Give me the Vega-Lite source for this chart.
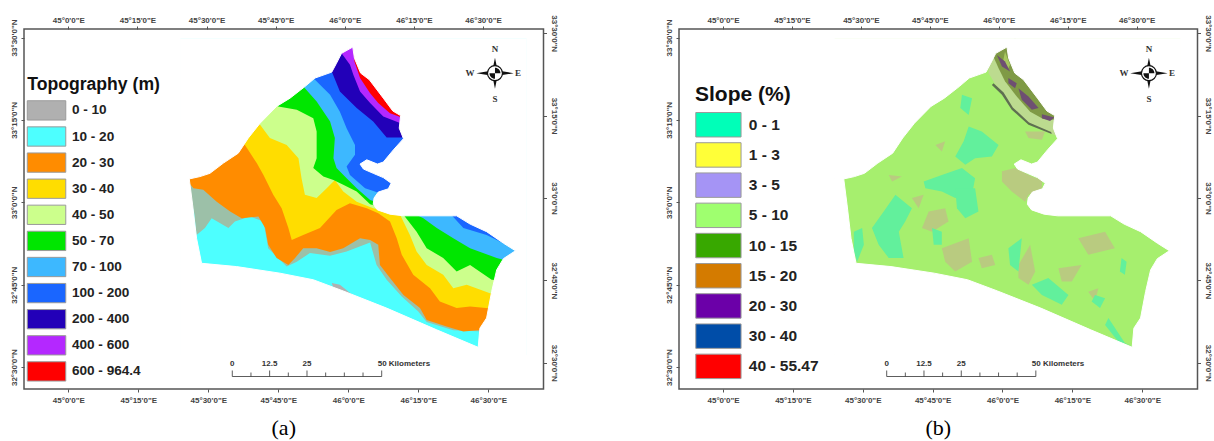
{"$schema":"https://vega.github.io/schema/vega-lite/v6.json","background":"white","padding":{"left":9,"top":13,"right":0,"bottom":0},"spacing":105,
"resolve":{"scale":{"fill":"independent"},"legend":{"fill":"independent"}},
"config":{"view":{"stroke":"#555","strokeWidth":1.5},"axis":{"grid":false,"title":null,"domain":false,"tickSize":3,"tickColor":"#555","tickWidth":1,"labelFont":"Liberation Sans","labelFontWeight":"bold","labelFontSize":8,"labelColor":"#444","labelOverlap":false,"labelBound":false,"labelFlush":false}},
"datasets":{
"ticks":[{"lon":45,"lat":33.5},{"lon":45.25,"lat":33.25},{"lon":45.5,"lat":33},{"lon":45.75,"lat":32.75},{"lon":46,"lat":32.5},{"lon":46.25,"lat":33},{"lon":46.5,"lat":33}],
"mask":[{"lon":45.399,"lat":33.498},{"lon":46.637,"lat":33.498},{"lon":46.637,"lat":32.537},{"lon":45.399,"lat":32.537},{"lon":45.399,"lat":33.071},{"lon":45.432,"lat":33.071},{"lon":45.444,"lat":32.992},{"lon":45.458,"lat":32.891},{"lon":45.476,"lat":32.815},{"lon":45.601,"lat":32.805},{"lon":45.756,"lat":32.785},{"lon":45.875,"lat":32.765},{"lon":45.982,"lat":32.731},{"lon":46.137,"lat":32.679},{"lon":46.316,"lat":32.613},{"lon":46.464,"lat":32.56},{"lon":46.47,"lat":32.618},{"lon":46.494,"lat":32.649},{"lon":46.512,"lat":32.729},{"lon":46.53,"lat":32.795},{"lon":46.554,"lat":32.829},{"lon":46.597,"lat":32.853},{"lon":46.554,"lat":32.876},{"lon":46.494,"lat":32.911},{"lon":46.435,"lat":32.934},{"lon":46.387,"lat":32.959},{"lon":46.197,"lat":32.959},{"lon":46.149,"lat":32.964},{"lon":46.104,"lat":32.977},{"lon":46.089,"lat":32.994},{"lon":46.092,"lat":33.013},{"lon":46.107,"lat":33.031},{"lon":46.143,"lat":33.041},{"lon":46.153,"lat":33.058},{"lon":46.125,"lat":33.075},{"lon":46.089,"lat":33.088},{"lon":46.054,"lat":33.101},{"lon":46.042,"lat":33.116},{"lon":46.066,"lat":33.129},{"lon":46.104,"lat":33.116},{"lon":46.125,"lat":33.122},{"lon":46.161,"lat":33.159},{"lon":46.197,"lat":33.193},{"lon":46.182,"lat":33.225},{"lon":46.187,"lat":33.263},{"lon":46.159,"lat":33.277},{"lon":46.125,"lat":33.316},{"lon":46.075,"lat":33.372},{"lon":46.044,"lat":33.392},{"lon":46.022,"lat":33.437},{"lon":46.016,"lat":33.471},{"lon":45.976,"lat":33.452},{"lon":45.958,"lat":33.422},{"lon":45.941,"lat":33.395},{"lon":45.881,"lat":33.377},{"lon":45.845,"lat":33.351},{"lon":45.792,"lat":33.316},{"lon":45.744,"lat":33.291},{"lon":45.685,"lat":33.24},{"lon":45.643,"lat":33.195},{"lon":45.607,"lat":33.149},{"lon":45.554,"lat":33.119},{"lon":45.506,"lat":33.088},{"lon":45.47,"lat":33.078},{"lon":45.432,"lat":33.071},{"lon":45.399,"lat":33.071},{"lon":45.399,"lat":33.498}],
"barLine":[{"lon":45.5857,"lon2":46.1193,"lat":32.4715}],
"barTicks":[{"lon":45.5857,"lat":32.4715,"lat2":32.4897},{"lon":45.6524,"lat":32.4715,"lat2":32.4836},{"lon":45.7191,"lat":32.4715,"lat2":32.4897},{"lon":45.7858,"lat":32.4715,"lat2":32.4836},{"lon":45.8525,"lat":32.4715,"lat2":32.4897},{"lon":45.9192,"lat":32.4715,"lat2":32.4836},{"lon":45.9859,"lat":32.4715,"lat2":32.4836},{"lon":46.0526,"lat":32.4715,"lat2":32.4836},{"lon":46.1193,"lat":32.4715,"lat2":32.4897}],
"barLabels":[{"lon":45.5857,"lat":32.5109,"t":"0"},{"lon":45.7191,"lat":32.5109,"t":"12.5"},{"lon":45.8525,"lat":32.5109,"t":"25"}],
"barUnit":[{"lon":46.105,"lat":32.5109,"t":"50 Kilometers"}],
"compass":[{"lon":46.5239,"lat":33.3917}],
"compassLetters":[{"lon":46.5239,"lat":33.4666,"t":"N"},{"lon":46.5239,"lat":33.3149,"t":"S"},{"lon":46.4346,"lat":33.3917,"t":"W"},{"lon":46.6061,"lat":33.3917,"t":"E"}],
"topo":[
{"p":"c","b":"10 - 20","lon":45.399,"lat":33.498},{"p":"c","b":"10 - 20","lon":46.637,"lat":33.498},{"p":"c","b":"10 - 20","lon":46.637,"lat":32.537},{"p":"c","b":"10 - 20","lon":45.399,"lat":32.537},
{"p":"g","b":"0 - 10","lon":45.941,"lat":32.755},{"p":"g","b":"0 - 10","lon":45.97,"lat":32.75},{"p":"g","b":"0 - 10","lon":46.03,"lat":32.709},{"p":"g","b":"0 - 10","lon":45.994,"lat":32.724},{"p":"g","b":"0 - 10","lon":45.947,"lat":32.739},
{"p":"m","b":"speckle","lon":45.423,"lat":33.043},{"p":"m","b":"speckle","lon":45.449,"lat":32.972},{"p":"m","b":"speckle","lon":45.458,"lat":32.901},{"p":"m","b":"speckle","lon":45.488,"lat":32.922},{"p":"m","b":"speckle","lon":45.512,"lat":32.952},{"p":"m","b":"speckle","lon":45.572,"lat":32.922},{"p":"m","b":"speckle","lon":45.595,"lat":32.942},{"p":"m","b":"speckle","lon":45.649,"lat":32.957},{"p":"m","b":"speckle","lon":45.697,"lat":32.942},{"p":"m","b":"speckle","lon":45.714,"lat":32.861},{"p":"m","b":"speckle","lon":45.78,"lat":32.805},{"p":"m","b":"speckle","lon":45.816,"lat":32.82},{"p":"m","b":"speckle","lon":45.863,"lat":32.846},{"p":"m","b":"speckle","lon":45.935,"lat":32.838},{"p":"m","b":"speckle","lon":45.994,"lat":32.851},{"p":"m","b":"speckle","lon":46.078,"lat":32.878},{"p":"m","b":"speckle","lon":46.101,"lat":32.81},{"p":"m","b":"speckle","lon":46.137,"lat":32.765},{"p":"m","b":"speckle","lon":46.191,"lat":32.714},{"p":"m","b":"speckle","lon":46.25,"lat":32.669},{"p":"m","b":"speckle","lon":46.28,"lat":32.637},{"p":"m","b":"speckle","lon":46.375,"lat":32.612},{"p":"m","b":"speckle","lon":46.482,"lat":32.608},{"p":"m","b":"speckle","lon":46.625,"lat":32.608},{"p":"m","b":"speckle","lon":46.625,"lat":33.488},{"p":"m","b":"speckle","lon":45.411,"lat":33.488},
{"p":"o","b":"20 - 30","lon":45.423,"lat":33.068},{"p":"o","b":"20 - 30","lon":45.447,"lat":33.043},{"p":"o","b":"20 - 30","lon":45.482,"lat":33.038},{"p":"o","b":"20 - 30","lon":45.53,"lat":33.002},{"p":"o","b":"20 - 30","lon":45.578,"lat":32.972},{"p":"o","b":"20 - 30","lon":45.619,"lat":32.952},{"p":"o","b":"20 - 30","lon":45.679,"lat":32.957},{"p":"o","b":"20 - 30","lon":45.703,"lat":32.922},{"p":"o","b":"20 - 30","lon":45.714,"lat":32.871},{"p":"o","b":"20 - 30","lon":45.744,"lat":32.831},{"p":"o","b":"20 - 30","lon":45.786,"lat":32.81},{"p":"o","b":"20 - 30","lon":45.81,"lat":32.831},{"p":"o","b":"20 - 30","lon":45.839,"lat":32.861},{"p":"o","b":"20 - 30","lon":45.887,"lat":32.861},{"p":"o","b":"20 - 30","lon":45.935,"lat":32.849},{"p":"o","b":"20 - 30","lon":45.982,"lat":32.861},{"p":"o","b":"20 - 30","lon":46.042,"lat":32.891},{"p":"o","b":"20 - 30","lon":46.078,"lat":32.886},{"p":"o","b":"20 - 30","lon":46.107,"lat":32.871},{"p":"o","b":"20 - 30","lon":46.113,"lat":32.81},{"p":"o","b":"20 - 30","lon":46.149,"lat":32.77},{"p":"o","b":"20 - 30","lon":46.197,"lat":32.719},{"p":"o","b":"20 - 30","lon":46.256,"lat":32.679},{"p":"o","b":"20 - 30","lon":46.28,"lat":32.643},{"p":"o","b":"20 - 30","lon":46.351,"lat":32.623},{"p":"o","b":"20 - 30","lon":46.411,"lat":32.608},{"p":"o","b":"20 - 30","lon":46.482,"lat":32.613},{"p":"o","b":"20 - 30","lon":46.625,"lat":32.628},{"p":"o","b":"20 - 30","lon":46.625,"lat":33.488},{"p":"o","b":"20 - 30","lon":45.411,"lat":33.488},
{"p":"y","b":"30 - 40","lon":45.601,"lat":33.195},{"p":"y","b":"30 - 40","lon":45.631,"lat":33.174},{"p":"y","b":"30 - 40","lon":45.673,"lat":33.119},{"p":"y","b":"30 - 40","lon":45.697,"lat":33.083},{"p":"y","b":"30 - 40","lon":45.732,"lat":33.023},{"p":"y","b":"30 - 40","lon":45.762,"lat":32.982},{"p":"y","b":"30 - 40","lon":45.786,"lat":32.922},{"p":"y","b":"30 - 40","lon":45.798,"lat":32.886},{"p":"y","b":"30 - 40","lon":45.839,"lat":32.901},{"p":"y","b":"30 - 40","lon":45.899,"lat":32.922},{"p":"y","b":"30 - 40","lon":45.958,"lat":32.977},{"p":"y","b":"30 - 40","lon":46.006,"lat":32.997},{"p":"y","b":"30 - 40","lon":46.066,"lat":32.982},{"p":"y","b":"30 - 40","lon":46.107,"lat":32.967},{"p":"y","b":"30 - 40","lon":46.149,"lat":32.942},{"p":"y","b":"30 - 40","lon":46.173,"lat":32.891},{"p":"y","b":"30 - 40","lon":46.191,"lat":32.841},{"p":"y","b":"30 - 40","lon":46.232,"lat":32.78},{"p":"y","b":"30 - 40","lon":46.292,"lat":32.739},{"p":"y","b":"30 - 40","lon":46.327,"lat":32.699},{"p":"y","b":"30 - 40","lon":46.387,"lat":32.679},{"p":"y","b":"30 - 40","lon":46.435,"lat":32.684},{"p":"y","b":"30 - 40","lon":46.625,"lat":32.669},{"p":"y","b":"30 - 40","lon":46.625,"lat":33.488},{"p":"y","b":"30 - 40","lon":45.601,"lat":33.488},
{"p":"l","b":"40 - 50","lon":45.661,"lat":33.255},{"p":"l","b":"40 - 50","lon":45.685,"lat":33.235},{"p":"l","b":"40 - 50","lon":45.72,"lat":33.195},{"p":"l","b":"40 - 50","lon":45.78,"lat":33.174},{"p":"l","b":"40 - 50","lon":45.822,"lat":33.134},{"p":"l","b":"40 - 50","lon":45.833,"lat":33.073},{"p":"l","b":"40 - 50","lon":45.845,"lat":33.023},{"p":"l","b":"40 - 50","lon":45.887,"lat":33.013},{"p":"l","b":"40 - 50","lon":45.923,"lat":33.043},{"p":"l","b":"40 - 50","lon":45.952,"lat":33.068},{"p":"l","b":"40 - 50","lon":45.982,"lat":33.033},{"p":"l","b":"40 - 50","lon":46.03,"lat":33.002},{"p":"l","b":"40 - 50","lon":46.089,"lat":32.982},{"p":"l","b":"40 - 50","lon":46.185,"lat":32.962},{"p":"l","b":"40 - 50","lon":46.22,"lat":32.901},{"p":"l","b":"40 - 50","lon":46.244,"lat":32.851},{"p":"l","b":"40 - 50","lon":46.28,"lat":32.81},{"p":"l","b":"40 - 50","lon":46.339,"lat":32.78},{"p":"l","b":"40 - 50","lon":46.375,"lat":32.739},{"p":"l","b":"40 - 50","lon":46.423,"lat":32.75},{"p":"l","b":"40 - 50","lon":46.506,"lat":32.724},{"p":"l","b":"40 - 50","lon":46.625,"lat":32.719},{"p":"l","b":"40 - 50","lon":46.625,"lat":33.488},{"p":"l","b":"40 - 50","lon":45.661,"lat":33.488},
{"p":"e","b":"50 - 70","lon":45.732,"lat":33.301},{"p":"e","b":"50 - 70","lon":45.75,"lat":33.291},{"p":"e","b":"50 - 70","lon":45.816,"lat":33.281},{"p":"e","b":"50 - 70","lon":45.875,"lat":33.255},{"p":"e","b":"50 - 70","lon":45.887,"lat":33.215},{"p":"e","b":"50 - 70","lon":45.887,"lat":33.134},{"p":"e","b":"50 - 70","lon":45.875,"lat":33.104},{"p":"e","b":"50 - 70","lon":45.911,"lat":33.078},{"p":"e","b":"50 - 70","lon":45.947,"lat":33.068},{"p":"e","b":"50 - 70","lon":45.982,"lat":33.053},{"p":"e","b":"50 - 70","lon":46.03,"lat":33.033},{"p":"e","b":"50 - 70","lon":46.078,"lat":32.994},{"p":"e","b":"50 - 70","lon":46.125,"lat":32.982},{"p":"e","b":"50 - 70","lon":46.197,"lat":32.962},{"p":"e","b":"50 - 70","lon":46.244,"lat":32.911},{"p":"e","b":"50 - 70","lon":46.28,"lat":32.861},{"p":"e","b":"50 - 70","lon":46.339,"lat":32.831},{"p":"e","b":"50 - 70","lon":46.387,"lat":32.79},{"p":"e","b":"50 - 70","lon":46.435,"lat":32.81},{"p":"e","b":"50 - 70","lon":46.512,"lat":32.765},{"p":"e","b":"50 - 70","lon":46.625,"lat":32.76},{"p":"e","b":"50 - 70","lon":46.625,"lat":33.488},{"p":"e","b":"50 - 70","lon":45.732,"lat":33.488},
{"p":"a","b":"70 - 100","lon":45.833,"lat":33.361},{"p":"a","b":"70 - 100","lon":45.845,"lat":33.346},{"p":"a","b":"70 - 100","lon":45.887,"lat":33.306},{"p":"a","b":"70 - 100","lon":45.935,"lat":33.245},{"p":"a","b":"70 - 100","lon":45.952,"lat":33.195},{"p":"a","b":"70 - 100","lon":45.947,"lat":33.134},{"p":"a","b":"70 - 100","lon":45.958,"lat":33.104},{"p":"a","b":"70 - 100","lon":45.994,"lat":33.073},{"p":"a","b":"70 - 100","lon":46.03,"lat":33.043},{"p":"a","b":"70 - 100","lon":46.078,"lat":33.007},{"p":"a","b":"70 - 100","lon":46.232,"lat":32.967},{"p":"a","b":"70 - 100","lon":46.268,"lat":32.952},{"p":"a","b":"70 - 100","lon":46.316,"lat":32.922},{"p":"a","b":"70 - 100","lon":46.375,"lat":32.891},{"p":"a","b":"70 - 100","lon":46.435,"lat":32.861},{"p":"a","b":"70 - 100","lon":46.53,"lat":32.831},{"p":"a","b":"70 - 100","lon":46.625,"lat":32.81},{"p":"a","b":"70 - 100","lon":46.625,"lat":33.488},{"p":"a","b":"70 - 100","lon":45.833,"lat":33.488},
{"p":"u","b":"100 - 200","lon":45.869,"lat":33.382},{"p":"u","b":"100 - 200","lon":45.881,"lat":33.372},{"p":"u","b":"100 - 200","lon":45.935,"lat":33.326},{"p":"u","b":"100 - 200","lon":45.97,"lat":33.275},{"p":"u","b":"100 - 200","lon":45.994,"lat":33.225},{"p":"u","b":"100 - 200","lon":46.024,"lat":33.174},{"p":"u","b":"100 - 200","lon":46.024,"lat":33.144},{"p":"u","b":"100 - 200","lon":45.994,"lat":33.109},{"p":"u","b":"100 - 200","lon":46.006,"lat":33.083},{"p":"u","b":"100 - 200","lon":46.06,"lat":33.043},{"p":"u","b":"100 - 200","lon":46.095,"lat":33.033},{"p":"u","b":"100 - 200","lon":46.149,"lat":33.013},{"p":"u","b":"100 - 200","lon":46.357,"lat":32.972},{"p":"u","b":"100 - 200","lon":46.411,"lat":32.922},{"p":"u","b":"100 - 200","lon":46.494,"lat":32.901},{"p":"u","b":"100 - 200","lon":46.625,"lat":32.846},{"p":"u","b":"100 - 200","lon":46.625,"lat":33.488},{"p":"u","b":"100 - 200","lon":45.869,"lat":33.488},
{"p":"d","b":"200 - 400","lon":45.935,"lat":33.407},{"p":"d","b":"200 - 400","lon":45.941,"lat":33.397},{"p":"d","b":"200 - 400","lon":45.97,"lat":33.336},{"p":"d","b":"200 - 400","lon":46.03,"lat":33.286},{"p":"d","b":"200 - 400","lon":46.089,"lat":33.245},{"p":"d","b":"200 - 400","lon":46.137,"lat":33.197},{"p":"d","b":"200 - 400","lon":46.191,"lat":33.197},{"p":"d","b":"200 - 400","lon":46.625,"lat":33.197},{"p":"d","b":"200 - 400","lon":46.625,"lat":33.488},{"p":"d","b":"200 - 400","lon":45.935,"lat":33.488},
{"p":"v","b":"400 - 600","lon":45.964,"lat":33.463},{"p":"v","b":"400 - 600","lon":45.976,"lat":33.452},{"p":"v","b":"400 - 600","lon":46.006,"lat":33.417},{"p":"v","b":"400 - 600","lon":46.018,"lat":33.387},{"p":"v","b":"400 - 600","lon":46.042,"lat":33.336},{"p":"v","b":"400 - 600","lon":46.078,"lat":33.301},{"p":"v","b":"400 - 600","lon":46.125,"lat":33.26},{"p":"v","b":"400 - 600","lon":46.187,"lat":33.24},{"p":"v","b":"400 - 600","lon":46.625,"lat":33.24},{"p":"v","b":"400 - 600","lon":46.625,"lat":33.488},{"p":"v","b":"400 - 600","lon":45.964,"lat":33.488},
{"p":"r","b":"600 - 964.4","lon":46.012,"lat":33.488},{"p":"r","b":"600 - 964.4","lon":46.018,"lat":33.468},{"p":"r","b":"600 - 964.4","lon":46.022,"lat":33.427},{"p":"r","b":"600 - 964.4","lon":46.042,"lat":33.377},{"p":"r","b":"600 - 964.4","lon":46.078,"lat":33.331},{"p":"r","b":"600 - 964.4","lon":46.107,"lat":33.301},{"p":"r","b":"600 - 964.4","lon":46.149,"lat":33.27},{"p":"r","b":"600 - 964.4","lon":46.191,"lat":33.257},{"p":"r","b":"600 - 964.4","lon":46.625,"lat":33.257},{"p":"r","b":"600 - 964.4","lon":46.625,"lat":33.488}
],
"slope":[
{"p":"base","b":"5 - 10 texture","lon":45.399,"lat":33.498},{"p":"base","b":"5 - 10 texture","lon":46.637,"lat":33.498},{"p":"base","b":"5 - 10 texture","lon":46.637,"lat":32.537},{"p":"base","b":"5 - 10 texture","lon":45.399,"lat":32.537},
{"p":"t1","b":"3 - 5 texture","lon":45.998,"lat":33.094},{"p":"t1","b":"3 - 5 texture","lon":46.045,"lat":33.104},{"p":"t1","b":"3 - 5 texture","lon":46.105,"lat":33.078},{"p":"t1","b":"3 - 5 texture","lon":46.141,"lat":33.068},{"p":"t1","b":"3 - 5 texture","lon":46.141,"lat":33.043},{"p":"t1","b":"3 - 5 texture","lon":46.093,"lat":33.023},{"p":"t1","b":"3 - 5 texture","lon":46.081,"lat":33.002},{"p":"t1","b":"3 - 5 texture","lon":46.033,"lat":33.033},{"p":"t1","b":"3 - 5 texture","lon":45.998,"lat":33.063},
{"p":"t2","b":"3 - 5 texture","lon":45.736,"lat":32.972},{"p":"t2","b":"3 - 5 texture","lon":45.795,"lat":32.982},{"p":"t2","b":"3 - 5 texture","lon":45.807,"lat":32.942},{"p":"t2","b":"3 - 5 texture","lon":45.748,"lat":32.911},{"p":"t2","b":"3 - 5 texture","lon":45.712,"lat":32.922},
{"p":"t3","b":"3 - 5 texture","lon":45.783,"lat":32.861},{"p":"t3","b":"3 - 5 texture","lon":45.879,"lat":32.891},{"p":"t3","b":"3 - 5 texture","lon":45.891,"lat":32.82},{"p":"t3","b":"3 - 5 texture","lon":45.831,"lat":32.79},{"p":"t3","b":"3 - 5 texture","lon":45.795,"lat":32.82},
{"p":"t4","b":"3 - 5 texture","lon":46.057,"lat":32.81},{"p":"t4","b":"3 - 5 texture","lon":46.099,"lat":32.871},{"p":"t4","b":"3 - 5 texture","lon":46.117,"lat":32.79},{"p":"t4","b":"3 - 5 texture","lon":46.093,"lat":32.75},{"p":"t4","b":"3 - 5 texture","lon":46.057,"lat":32.77},
{"p":"t5","b":"3 - 5 texture","lon":46.2,"lat":32.8},{"p":"t5","b":"3 - 5 texture","lon":46.283,"lat":32.81},{"p":"t5","b":"3 - 5 texture","lon":46.248,"lat":32.76},{"p":"t5","b":"3 - 5 texture","lon":46.212,"lat":32.76},
{"p":"t6","b":"3 - 5 texture","lon":45.593,"lat":33.083},{"p":"t6","b":"3 - 5 texture","lon":45.64,"lat":33.078},{"p":"t6","b":"3 - 5 texture","lon":45.605,"lat":33.063},
{"p":"t7","b":"3 - 5 texture","lon":45.76,"lat":33.174},{"p":"t7","b":"3 - 5 texture","lon":45.795,"lat":33.185},{"p":"t7","b":"3 - 5 texture","lon":45.783,"lat":33.154},
{"p":"t8","b":"3 - 5 texture","lon":45.914,"lat":32.831},{"p":"t8","b":"3 - 5 texture","lon":45.962,"lat":32.841},{"p":"t8","b":"3 - 5 texture","lon":45.974,"lat":32.81},{"p":"t8","b":"3 - 5 texture","lon":45.926,"lat":32.8},
{"p":"t9","b":"3 - 5 texture","lon":46.307,"lat":32.729},{"p":"t9","b":"3 - 5 texture","lon":46.343,"lat":32.739},{"p":"t9","b":"3 - 5 texture","lon":46.331,"lat":32.699},
{"p":"t10","b":"3 - 5 texture","lon":46.081,"lat":33.215},{"p":"t10","b":"3 - 5 texture","lon":46.152,"lat":33.215},{"p":"t10","b":"3 - 5 texture","lon":46.141,"lat":33.19},{"p":"t10","b":"3 - 5 texture","lon":46.093,"lat":33.195},
{"p":"t11","b":"3 - 5 texture","lon":45.676,"lat":33.013},{"p":"t11","b":"3 - 5 texture","lon":45.718,"lat":33.023},{"p":"t11","b":"3 - 5 texture","lon":45.7,"lat":32.982},
{"p":"t12","b":"3 - 5 texture","lon":46.271,"lat":32.891},{"p":"t12","b":"3 - 5 texture","lon":46.367,"lat":32.911},{"p":"t12","b":"3 - 5 texture","lon":46.402,"lat":32.861},{"p":"t12","b":"3 - 5 texture","lon":46.307,"lat":32.841},
{"p":"a1","b":"0 - 1 texture","lon":45.879,"lat":33.23},{"p":"a1","b":"0 - 1 texture","lon":45.926,"lat":33.215},{"p":"a1","b":"0 - 1 texture","lon":45.986,"lat":33.174},{"p":"a1","b":"0 - 1 texture","lon":45.962,"lat":33.139},{"p":"a1","b":"0 - 1 texture","lon":45.902,"lat":33.134},{"p":"a1","b":"0 - 1 texture","lon":45.867,"lat":33.114},{"p":"a1","b":"0 - 1 texture","lon":45.831,"lat":33.139},{"p":"a1","b":"0 - 1 texture","lon":45.861,"lat":33.185},
{"p":"a2","b":"0 - 1 texture","lon":45.718,"lat":33.063},{"p":"a2","b":"0 - 1 texture","lon":45.783,"lat":33.083},{"p":"a2","b":"0 - 1 texture","lon":45.855,"lat":33.104},{"p":"a2","b":"0 - 1 texture","lon":45.902,"lat":33.073},{"p":"a2","b":"0 - 1 texture","lon":45.891,"lat":33.023},{"p":"a2","b":"0 - 1 texture","lon":45.831,"lat":33.013},{"p":"a2","b":"0 - 1 texture","lon":45.783,"lat":33.033},{"p":"a2","b":"0 - 1 texture","lon":45.724,"lat":33.043},
{"p":"a3","b":"0 - 1 texture","lon":45.533,"lat":32.922},{"p":"a3","b":"0 - 1 texture","lon":45.575,"lat":32.972},{"p":"a3","b":"0 - 1 texture","lon":45.617,"lat":33.023},{"p":"a3","b":"0 - 1 texture","lon":45.676,"lat":32.982},{"p":"a3","b":"0 - 1 texture","lon":45.652,"lat":32.942},{"p":"a3","b":"0 - 1 texture","lon":45.629,"lat":32.911},{"p":"a3","b":"0 - 1 texture","lon":45.646,"lat":32.831},{"p":"a3","b":"0 - 1 texture","lon":45.593,"lat":32.831},{"p":"a3","b":"0 - 1 texture","lon":45.557,"lat":32.871},
{"p":"a4","b":"0 - 1 texture","lon":45.468,"lat":32.911},{"p":"a4","b":"0 - 1 texture","lon":45.498,"lat":32.922},{"p":"a4","b":"0 - 1 texture","lon":45.504,"lat":32.871},{"p":"a4","b":"0 - 1 texture","lon":45.48,"lat":32.82},{"p":"a4","b":"0 - 1 texture","lon":45.468,"lat":32.851},
{"p":"a5","b":"0 - 1 texture","lon":45.748,"lat":32.922},{"p":"a5","b":"0 - 1 texture","lon":45.783,"lat":32.911},{"p":"a5","b":"0 - 1 texture","lon":45.783,"lat":32.871},{"p":"a5","b":"0 - 1 texture","lon":45.754,"lat":32.871},
{"p":"a6","b":"0 - 1 texture","lon":45.831,"lat":33.043},{"p":"a6","b":"0 - 1 texture","lon":45.902,"lat":33.043},{"p":"a6","b":"0 - 1 texture","lon":45.914,"lat":32.972},{"p":"a6","b":"0 - 1 texture","lon":45.867,"lat":32.952},{"p":"a6","b":"0 - 1 texture","lon":45.837,"lat":32.982},
{"p":"a7","b":"0 - 1 texture","lon":46.105,"lat":32.75},{"p":"a7","b":"0 - 1 texture","lon":46.164,"lat":32.77},{"p":"a7","b":"0 - 1 texture","lon":46.236,"lat":32.719},{"p":"a7","b":"0 - 1 texture","lon":46.212,"lat":32.689},{"p":"a7","b":"0 - 1 texture","lon":46.141,"lat":32.719},
{"p":"a8","b":"0 - 1 texture","lon":46.331,"lat":32.719},{"p":"a8","b":"0 - 1 texture","lon":46.367,"lat":32.709},{"p":"a8","b":"0 - 1 texture","lon":46.349,"lat":32.679},{"p":"a8","b":"0 - 1 texture","lon":46.319,"lat":32.699},
{"p":"a9","b":"0 - 1 texture","lon":46.426,"lat":32.831},{"p":"a9","b":"0 - 1 texture","lon":46.444,"lat":32.82},{"p":"a9","b":"0 - 1 texture","lon":46.438,"lat":32.78},{"p":"a9","b":"0 - 1 texture","lon":46.42,"lat":32.79},
{"p":"a10","b":"0 - 1 texture","lon":46.379,"lat":32.649},{"p":"a10","b":"0 - 1 texture","lon":46.438,"lat":32.573},{"p":"a10","b":"0 - 1 texture","lon":46.468,"lat":32.563},{"p":"a10","b":"0 - 1 texture","lon":46.414,"lat":32.578},{"p":"a10","b":"0 - 1 texture","lon":46.367,"lat":32.628},
{"p":"a11","b":"0 - 1 texture","lon":46.021,"lat":32.861},{"p":"a11","b":"0 - 1 texture","lon":46.069,"lat":32.891},{"p":"a11","b":"0 - 1 texture","lon":46.057,"lat":32.79},{"p":"a11","b":"0 - 1 texture","lon":46.027,"lat":32.81},
{"p":"a12","b":"0 - 1 texture","lon":45.855,"lat":33.326},{"p":"a12","b":"0 - 1 texture","lon":45.891,"lat":33.316},{"p":"a12","b":"0 - 1 texture","lon":45.879,"lat":33.265},{"p":"a12","b":"0 - 1 texture","lon":45.849,"lat":33.286},
{"p":"pale","b":"10 - 15 pale","lon":45.95,"lat":33.392},{"p":"pale","b":"10 - 15 pale","lon":45.986,"lat":33.341},{"p":"pale","b":"10 - 15 pale","lon":46.033,"lat":33.281},{"p":"pale","b":"10 - 15 pale","lon":46.093,"lat":33.24},{"p":"pale","b":"10 - 15 pale","lon":46.152,"lat":33.215},{"p":"pale","b":"10 - 15 pale","lon":46.2,"lat":33.2},{"p":"pale","b":"10 - 15 pale","lon":46.283,"lat":33.316},{"p":"pale","b":"10 - 15 pale","lon":46.045,"lat":33.498},{"p":"pale","b":"10 - 15 pale","lon":45.95,"lat":33.457},
{"p":"oliv","b":"15 - 20 texture","lon":45.962,"lat":33.452},{"p":"oliv","b":"15 - 20 texture","lon":45.986,"lat":33.407},{"p":"oliv","b":"15 - 20 texture","lon":46.009,"lat":33.367},{"p":"oliv","b":"15 - 20 texture","lon":46.051,"lat":33.321},{"p":"oliv","b":"15 - 20 texture","lon":46.099,"lat":33.275},{"p":"oliv","b":"15 - 20 texture","lon":46.146,"lat":33.253},{"p":"oliv","b":"15 - 20 texture","lon":46.2,"lat":33.25},{"p":"oliv","b":"15 - 20 texture","lon":46.283,"lat":33.316},{"p":"oliv","b":"15 - 20 texture","lon":46.045,"lat":33.498},
{"p":"g1","b":"10 - 15 light","lon":46.009,"lat":33.457},{"p":"g1","b":"10 - 15 light","lon":46.027,"lat":33.417},{"p":"g1","b":"10 - 15 light","lon":46.021,"lat":33.407},{"p":"g1","b":"10 - 15 light","lon":46.003,"lat":33.432},
{"p":"d1","b":"20 - 30 texture","lon":46.057,"lat":33.346},{"p":"d1","b":"20 - 30 texture","lon":46.093,"lat":33.321},{"p":"d1","b":"20 - 30 texture","lon":46.129,"lat":33.286},{"p":"d1","b":"20 - 30 texture","lon":46.105,"lat":33.281},{"p":"d1","b":"20 - 30 texture","lon":46.069,"lat":33.311},
{"p":"d2","b":"20 - 30 texture","lon":46.141,"lat":33.267},{"p":"d2","b":"20 - 30 texture","lon":46.186,"lat":33.257},{"p":"d2","b":"20 - 30 texture","lon":46.17,"lat":33.247},{"p":"d2","b":"20 - 30 texture","lon":46.141,"lat":33.255},
{"p":"d3","b":"20 - 30 texture","lon":45.98,"lat":33.447},{"p":"d3","b":"20 - 30 texture","lon":46.009,"lat":33.427},{"p":"d3","b":"20 - 30 texture","lon":46.027,"lat":33.397},{"p":"d3","b":"20 - 30 texture","lon":45.998,"lat":33.412},
{"p":"d4","b":"20 - 30 texture","lon":46.021,"lat":33.377},{"p":"d4","b":"20 - 30 texture","lon":46.051,"lat":33.361},{"p":"d4","b":"20 - 30 texture","lon":46.045,"lat":33.346},{"p":"d4","b":"20 - 30 texture","lon":46.021,"lat":33.361},
{"p":"rdg","b":"ridge","lon":45.962,"lat":33.356},{"p":"rdg","b":"ridge","lon":45.998,"lat":33.326},{"p":"rdg","b":"ridge","lon":46.033,"lat":33.281},{"p":"rdg","b":"ridge","lon":46.093,"lat":33.235},{"p":"rdg","b":"ridge","lon":46.176,"lat":33.207},{"p":"rdg","b":"ridge","lon":46.174,"lat":33.213},{"p":"rdg","b":"ridge","lon":46.095,"lat":33.242},{"p":"rdg","b":"ridge","lon":46.037,"lat":33.288},{"p":"rdg","b":"ridge","lon":46.004,"lat":33.333},{"p":"rdg","b":"ridge","lon":45.968,"lat":33.361}
]
},
"hconcat":[
{"width":519.5,"height":360,
"title":{"text":"(a)","orient":"bottom","anchor":"middle","font":"Liberation Serif","fontSize":22,"fontWeight":"normal","color":"#000","offset":14},
"layer":[
{"encoding":{
"x":{"field":"lon","type":"quantitative","scale":{"domain":[44.8418,46.6972],"nice":false,"zero":false},"axis":{"orient":"bottom","values":[45,45.25,45.5,45.75,46,46.25,46.5],"labelPadding":4,"labelExpr":"floor(datum.value)+'°'+round((datum.value%1)*60)+'\\'0\"E'"}},
"y":{"field":"lat","type":"quantitative","scale":{"domain":[32.4336,33.5258],"nice":false,"zero":false},"axis":{"orient":"left","values":[32.5,32.75,33,33.25,33.5],"labelAngle":-90,"labelAlign":"center","labelBaseline":"bottom","labelPadding":3,"labelExpr":"floor(datum.value)+'°'+round((datum.value%1)*60)+'\\'0\"N'"}}},
"layer":[
{"data":{"name":"topo"},"mark":{"type":"line","stroke":null},
"encoding":{"order":{"value":null},"detail":{"field":"p"},"fill":{"field":"b","type":"nominal","scale":{"domain":["0 - 10","10 - 20","20 - 30","30 - 40","40 - 50","50 - 70","70 - 100","100 - 200","200 - 400","400 - 600","600 - 964.4","speckle"],"range":["#b0b0b0","#4dffff","#ff8c00","#ffdd00","#ccff8c","#00e600","#3db8ff","#1a66ff","#2200b8","#b428ff","#ff0000","#9cc0a8"]},
"legend":{"title":"Topography (m)","values":["0 - 10","10 - 20","20 - 30","30 - 40","40 - 50","50 - 70","70 - 100","100 - 200","200 - 400","400 - 600","600 - 964.4"],"orient":"none","legendX":3.3,"legendY":47,"padding":0,"symbolType":"M-1.4,-1.98H6.5V1.98H-1.4Z","symbolSize":95,"symbolStrokeColor":"#9a9a9a","symbolStrokeWidth":1,"symbolOpacity":1,"labelFont":"Liberation Sans","labelFontWeight":"bold","labelFontSize":13.6,"labelColor":"#222","labelOffset":31,"rowPadding":2.1,"titleFont":"Liberation Sans","titleFontWeight":"bold","titleFontSize":17.6,"titleColor":"#111","titlePadding":10,"labelLimit":200,"titleLimit":300}}}},
{"data":{"name":"mask"},"mark":{"type":"line","fill":"white","stroke":"white","strokeWidth":1},"encoding":{"order":{"value":null}}},
{"data":{"name":"barLine"},"mark":{"type":"rule","color":"#333","strokeWidth":0.8},"encoding":{"x2":{"field":"lon2"}}},
{"data":{"name":"barTicks"},"mark":{"type":"rule","color":"#333","strokeWidth":0.8},"encoding":{"y2":{"field":"lat2"}}},
{"data":{"name":"barLabels"},"mark":{"type":"text","font":"Liberation Sans","fontWeight":"bold","fontSize":8,"color":"#333","align":"center"},"encoding":{"text":{"field":"t"}}},
{"data":{"name":"barUnit"},"mark":{"type":"text","font":"Liberation Sans","fontWeight":"bold","fontSize":8,"color":"#333","align":"left"},"encoding":{"text":{"field":"t"}}},
{"data":{"name":"compass"},"mark":{"type":"point","shape":"M0,-.83L.14,-.14L1,0L.14,.14L0,.83L-.14,.14L-1,0L-.14,-.14Z","size":1399,"filled":true,"fill":"#111","strokeWidth":0,"opacity":1}},
{"data":{"name":"compass"},"mark":{"type":"point","shape":"circle","size":225,"filled":true,"fill":"white","stroke":"#111","strokeWidth":1.2,"opacity":1}},
{"data":{"name":"compass"},"mark":{"type":"point","shape":"M0,0L0,-1A1,1,0,0,1,1,0ZM0,0L0,1A1,1,0,0,1,-1,0Z","size":121,"filled":true,"fill":"#111","strokeWidth":0,"opacity":1}},
{"data":{"name":"compassLetters"},"mark":{"type":"text","font":"Liberation Serif","fontWeight":"bold","fontSize":9,"color":"#333"},"encoding":{"text":{"field":"t"}}}
]},
{"data":{"name":"ticks"},"mark":{"type":"point","opacity":0},
"encoding":{
"x":{"field":"lon","type":"quantitative","scale":{"domain":[44.8398,46.7186],"nice":false,"zero":false},"axis":{"orient":"top","values":[45,45.25,45.5,45.75,46,46.25,46.5],"labelPadding":2,"labelExpr":"floor(datum.value)+'°'+round((datum.value%1)*60)+'\\'0\"E'"}},
"y":{"field":"lat","type":"quantitative","scale":{"domain":[32.4205,33.5127],"nice":false,"zero":false},"axis":{"orient":"right","values":[32.5,32.75,33,33.25,33.5],"labelAngle":90,"labelAlign":"center","labelBaseline":"bottom","labelPadding":3,"labelExpr":"floor(datum.value)+'°'+round((datum.value%1)*60)+'\\'0\"N'"}}}}
],
"resolve":{"scale":{"x":"independent","y":"independent"},"axis":{"x":"independent","y":"independent"}}
},
{"width":518.5,"height":360,
"title":{"text":"(b)","orient":"bottom","anchor":"middle","font":"Liberation Serif","fontSize":22,"fontWeight":"normal","color":"#000","offset":14},
"layer":[
{"encoding":{
"x":{"field":"lon","type":"quantitative","scale":{"domain":[44.8426,46.6977],"nice":false,"zero":false},"axis":{"orient":"bottom","values":[45,45.25,45.5,45.75,46,46.25,46.5],"labelPadding":4,"labelExpr":"floor(datum.value)+'°'+round((datum.value%1)*60)+'\\'0\"E'"}},
"y":{"field":"lat","type":"quantitative","scale":{"domain":[32.4336,33.5258],"nice":false,"zero":false},"axis":{"orient":"left","values":[32.5,32.75,33,33.25,33.5],"labelAngle":-90,"labelAlign":"center","labelBaseline":"bottom","labelPadding":3,"labelExpr":"floor(datum.value)+'°'+round((datum.value%1)*60)+'\\'0\"N'"}}},
"layer":[
{"data":{"name":"slope"},"mark":{"type":"line","stroke":null},
"encoding":{"order":{"value":null},"detail":{"field":"p"},"fill":{"field":"b","type":"nominal","scale":{"domain":["0 - 1","1 - 3","3 - 5","5 - 10","10 - 15","15 - 20","20 - 30","30 - 40","40 - 55.47","5 - 10 texture","3 - 5 texture","0 - 1 texture","10 - 15 pale","10 - 15 light","15 - 20 texture","20 - 30 texture","ridge"],"range":["#00ffb8","#ffff38","#a594f5","#9fff6f","#38a800","#d47b00","#6b00a8","#004da8","#ff0000","#a6ef6e","#b9cb80","#62f09c","#bcdb8f","#a8c860","#7f9a45","#6e4f72","#5e7050"]},
"legend":{"title":"Slope (%)","values":["0 - 1","1 - 3","3 - 5","5 - 10","10 - 15","15 - 20","20 - 30","30 - 40","40 - 55.47"],"orient":"none","legendX":16,"legendY":55,"padding":0,"symbolType":"M-1.23,-2.16H6.77V2.16H-1.23Z","symbolSize":128,"symbolStrokeColor":"#9a9a9a","symbolStrokeWidth":1,"symbolOpacity":1,"labelFont":"Liberation Sans","labelFontWeight":"bold","labelFontSize":15.5,"labelColor":"#222","labelOffset":38.3,"rowPadding":1.2,"titleFont":"Liberation Sans","titleFontWeight":"bold","titleFontSize":21,"titleColor":"#111","titlePadding":12,"labelLimit":200,"titleLimit":300}}}},
{"data":{"name":"mask"},"mark":{"type":"line","fill":"white","stroke":"white","strokeWidth":1},"encoding":{"order":{"value":null}}},
{"data":{"name":"barLine"},"mark":{"type":"rule","color":"#333","strokeWidth":0.8},"encoding":{"x2":{"field":"lon2"}}},
{"data":{"name":"barTicks"},"mark":{"type":"rule","color":"#333","strokeWidth":0.8},"encoding":{"y2":{"field":"lat2"}}},
{"data":{"name":"barLabels"},"mark":{"type":"text","font":"Liberation Sans","fontWeight":"bold","fontSize":8,"color":"#333","align":"center"},"encoding":{"text":{"field":"t"}}},
{"data":{"name":"barUnit"},"mark":{"type":"text","font":"Liberation Sans","fontWeight":"bold","fontSize":8,"color":"#333","align":"left"},"encoding":{"text":{"field":"t"}}},
{"data":{"name":"compass"},"mark":{"type":"point","shape":"M0,-.83L.14,-.14L1,0L.14,.14L0,.83L-.14,.14L-1,0L-.14,-.14Z","size":1399,"filled":true,"fill":"#111","strokeWidth":0,"opacity":1}},
{"data":{"name":"compass"},"mark":{"type":"point","shape":"circle","size":225,"filled":true,"fill":"white","stroke":"#111","strokeWidth":1.2,"opacity":1}},
{"data":{"name":"compass"},"mark":{"type":"point","shape":"M0,0L0,-1A1,1,0,0,1,1,0ZM0,0L0,1A1,1,0,0,1,-1,0Z","size":121,"filled":true,"fill":"#111","strokeWidth":0,"opacity":1}},
{"data":{"name":"compassLetters"},"mark":{"type":"text","font":"Liberation Serif","fontWeight":"bold","fontSize":9,"color":"#333"},"encoding":{"text":{"field":"t"}}}
]},
{"data":{"name":"ticks"},"mark":{"type":"point","opacity":0},
"encoding":{
"x":{"field":"lon","type":"quantitative","scale":{"domain":[44.8405,46.7205],"nice":false,"zero":false},"axis":{"orient":"top","values":[45,45.25,45.5,45.75,46,46.25,46.5],"labelPadding":2,"labelExpr":"floor(datum.value)+'°'+round((datum.value%1)*60)+'\\'0\"E'"}},
"y":{"field":"lat","type":"quantitative","scale":{"domain":[32.4205,33.5127],"nice":false,"zero":false},"axis":{"orient":"right","values":[32.5,32.75,33,33.25,33.5],"labelAngle":90,"labelAlign":"center","labelBaseline":"bottom","labelPadding":3,"labelExpr":"floor(datum.value)+'°'+round((datum.value%1)*60)+'\\'0\"N'"}}}}
],
"resolve":{"scale":{"x":"independent","y":"independent"},"axis":{"x":"independent","y":"independent"}}
}
]}
